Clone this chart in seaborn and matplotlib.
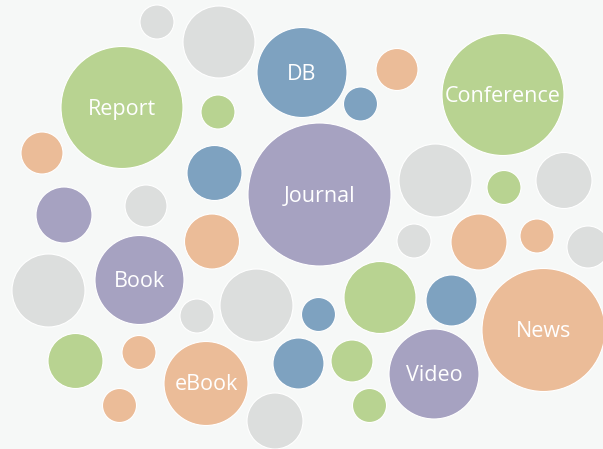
import numpy as np
import pandas as pd
import matplotlib
matplotlib.use("Agg")
import matplotlib.pyplot as plt
import seaborn as sns

# bubble data: centre (x, y), radius, colour group, label
x = [122, 302, 503, 319.5, 139.5, 543.5, 434, 206,
     157, 219, 397, 360.5, 218, 42, 214.5, 435.5, 564, 504, 64, 146,
     212, 414, 479, 537, 588, 48.5, 256.5, 197, 318.5, 380, 451.5,
     75.5, 139, 298.5, 352, 275, 119.5, 369.5]
y = [107.5, 72.5, 94.5, 194.5, 280, 330, 374, 383.5,
     22, 42, 69.5, 104, 112, 153, 173, 180.5, 180.5, 187.5, 215, 206,
     241.5, 241, 242, 236, 247, 290.5, 305.5, 316, 314.5, 297.5, 300.5,
     361, 352.5, 363.5, 361, 421, 405.5, 405.5]
radius = [61, 45, 61, 71.5, 44.5, 61.5, 45, 42,
          17, 36, 21, 17, 17, 21, 27.5, 36.5, 28, 17, 28, 21,
          27.5, 17, 28, 17, 21, 36.5, 36.5, 17, 17, 36, 25.5,
          27.5, 17, 25.5, 21, 28, 17, 17]
group = ["green", "blue", "green", "purple", "purple", "orange", "purple", "orange",
         "gray", "gray", "orange", "blue", "green", "orange", "blue", "gray", "gray", "green", "purple", "gray",
         "orange", "gray", "orange", "orange", "gray", "gray", "gray", "gray", "blue", "green", "blue",
         "green", "orange", "blue", "green", "gray", "orange", "green"]
labels = ["Report", "DB", "Conference", "Journal", "Book", "News", "Video", "eBook"] + [""] * 30

palette = {
    "green": "#b8d391",
    "blue": "#7ea2c0",
    "purple": "#a6a2c1",
    "orange": "#ebbc98",
    "gray": "#dcdedd",
}

DPI = 100
df = pd.DataFrame({"x": x, "y": y, "r": radius, "group": group, "label": labels})
# marker area in pt^2 so the radius matches pixels
df["area"] = (2 * df["r"] * 72 / DPI) ** 2

sns.set_style("white")
plt.rcParams["font.family"] = ["Open Sans", "DejaVu Sans"]

fig = plt.figure(figsize=(6.03, 4.49), dpi=DPI, facecolor="#f6f8f7")
ax = fig.add_axes([0, 0, 1, 1])
ax.set_facecolor("#f6f8f7")

sns.scatterplot(data=df, x="x", y="y", hue="group", palette=palette,
                size="area", sizes=(df["area"].min(), df["area"].max()),
                size_norm=(df["area"].min(), df["area"].max()),
                edgecolor=(1, 1, 1, 0.35), linewidth=0.8, alpha=1,
                legend=False, ax=ax)

for _, row in df[df["label"] != ""].iterrows():
    ax.text(row["x"], row["y"] + 1.5, row["label"], color="white", fontsize=15.5,
            ha="center", va="center")

ax.set_xlim(0, 603)
ax.set_ylim(449, 0)
ax.axis("off")

fig.savefig("out.png", dpi=DPI, facecolor=fig.get_facecolor())
